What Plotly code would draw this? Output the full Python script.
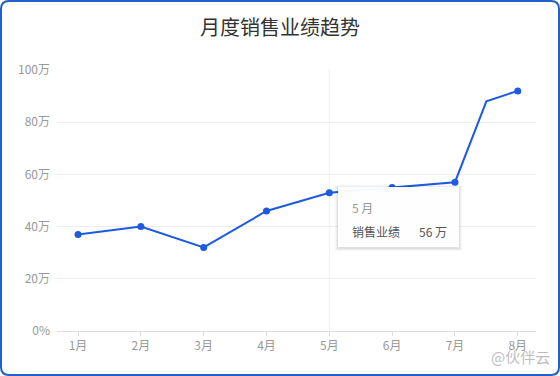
import plotly.graph_objects as go

months = ["1月", "2月", "3月", "4月", "5月", "6月", "7月", "8月"]
x_pos = [1, 2, 3, 4, 5, 6, 7, 7.5, 8]
sales = [37, 40, 32, 46, 53, 55, 57, 88, 92]
marker_x = [1, 2, 3, 4, 5, 6, 7, 8]
marker_y = [37, 40, 32, 46, 53, 55, 57, 92]
y_ticks = [0, 20, 40, 60, 80, 100]
y_labels = ["0%", "20万", "40万", "60万", "80万", "100万"]
title = "月度销售业绩趋势"
tip_month = "5 月"
tip_name = "销售业绩"
tip_value = "56 万"

FONT = "Noto Sans CJK SC"
BLUE = "#1c5be0"

L, R, T, B = 57, 24, 70, 45
W, H = 560, 376
pw, ph = W - L - R, H - T - B

def px(x):
    return (x - L) / pw

def py(y):
    return (H - B - y) / ph

fig = go.Figure()
fig.add_trace(go.Scatter(x=x_pos, y=sales, mode="lines",
                         line=dict(color=BLUE, width=2), hoverinfo="skip"))
fig.add_trace(go.Scatter(x=marker_x, y=marker_y, mode="markers",
                         marker=dict(color=BLUE, size=7), hoverinfo="skip"))

shapes = []
# crosshair
shapes.append(dict(type="line", xref="x", yref="paper", x0=5, x1=5, y0=0, y1=1,
                   line=dict(color="#f0f0f0", width=1), layer="below"))
# tooltip shadow + box
bx0, bx1, by0, by1 = 338, 459, 187, 247
for i, op in enumerate([0.03, 0.04, 0.05]):
    d = 3 - i
    shapes.append(dict(type="rect", xref="paper", yref="paper",
                       x0=px(bx0 - d), x1=px(bx1 + d), y0=py(by1 + d + 1), y1=py(by0 - d + 1),
                       fillcolor=f"rgba(0,0,0,{op})", line=dict(width=0)))
shapes.append(dict(type="rect", xref="paper", yref="paper",
                   x0=px(bx0), x1=px(bx1), y0=py(by1), y1=py(by0),
                   fillcolor="rgba(255,255,255,0.96)", line=dict(width=0)))

# rounded border
r = 8
x0b, x1b, y0b, y1b = 1, 559, 1, 375
path = (f"M {px(x0b + r)},{py(y0b)} L {px(x1b - r)},{py(y0b)} "
        f"Q {px(x1b)},{py(y0b)} {px(x1b)},{py(y0b + r)} "
        f"L {px(x1b)},{py(y1b - r)} Q {px(x1b)},{py(y1b)} {px(x1b - r)},{py(y1b)} "
        f"L {px(x0b + r)},{py(y1b)} Q {px(x0b)},{py(y1b)} {px(x0b)},{py(y1b - r)} "
        f"L {px(x0b)},{py(y0b + r)} Q {px(x0b)},{py(y0b)} {px(x0b + r)},{py(y0b)} Z")
shapes.append(dict(type="path", xref="paper", yref="paper", path=path,
                   line=dict(color="#2060c8", width=2)))

annotations = [
    dict(text=tip_month, xref="paper", yref="paper", x=px(350), y=py(207),
         xanchor="left", yanchor="middle", showarrow=False,
         font=dict(family=FONT, size=12, color="#999999")),
    dict(text=tip_name, xref="paper", yref="paper", x=px(350), y=py(231),
         xanchor="left", yanchor="middle", showarrow=False,
         font=dict(family=FONT, size=12, color="#555555")),
    dict(text=tip_value, xref="paper", yref="paper", x=px(449), y=py(231),
         xanchor="right", yanchor="middle", showarrow=False,
         font=dict(family=FONT, size=12, color="#555555")),
    dict(text="@伙伴云", xref="paper", yref="paper", x=px(552), y=py(356),
         xanchor="right", yanchor="middle", showarrow=False,
         font=dict(family=FONT, size=15, color="rgba(160,160,160,0.7)")),
]

fig.update_layout(
    width=W, height=H,
    margin=dict(l=L, r=R, t=T, b=B),
    paper_bgcolor="white", plot_bgcolor="white",
    showlegend=False,
    title=dict(text=title, x=0.5, xref="container", xanchor="center",
               y=1 - 28 / H, yref="container", yanchor="middle",
               font=dict(family=FONT, size=20, color="#333333")),
    font=dict(family=FONT),
    shapes=shapes,
    annotations=annotations,
    hovermode=False,
)
fig.update_xaxes(range=[0.665, 8.29], tickvals=marker_x, ticktext=months,
                 showgrid=False, zeroline=False, showline=True, linecolor="#dddddd",
                 ticks="outside", ticklen=4, tickcolor="#dddddd",
                 tickfont=dict(family=FONT, size=12, color="#999999"), fixedrange=True)
fig.update_yaxes(range=[0, 100], tickvals=y_ticks, ticktext=y_labels,
                 showgrid=True, gridcolor="#eeeeee", zeroline=False, showline=False,
                 ticks="", ticklabelstandoff=6,
                 tickfont=dict(family=FONT, size=12, color="#999999"), fixedrange=True)

fig.write_html("out.html", config={"displayModeBar": False},
               post_script="document.body.style.margin='0';document.body.style.overflow='hidden';")
